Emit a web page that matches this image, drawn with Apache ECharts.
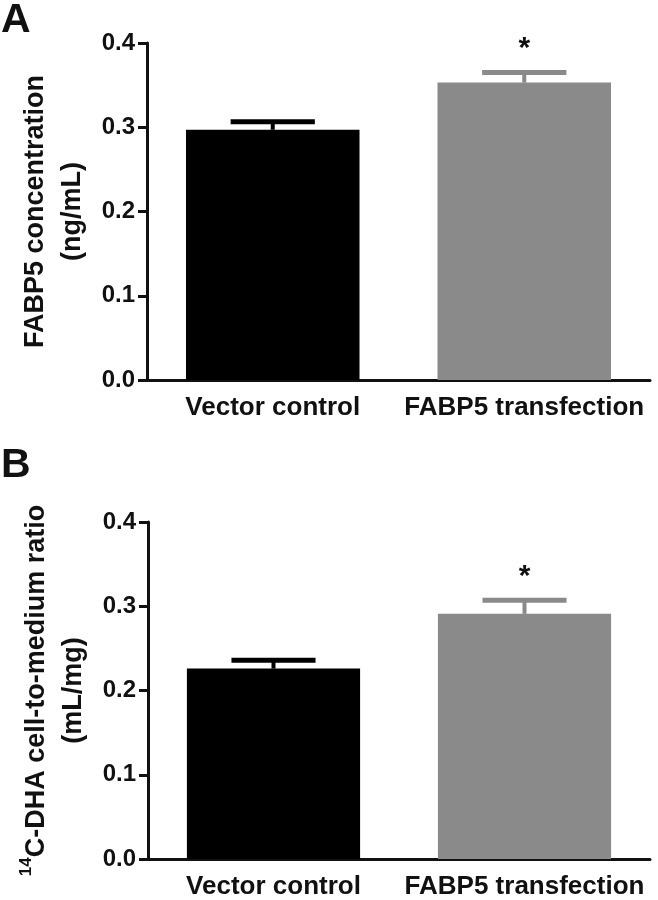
<!DOCTYPE html>
<html>
<head>
<meta charset="utf-8">
<script src="https://cdn.jsdelivr.net/npm/echarts@6/dist/echarts.min.js"></script>
<style>
  html, body { margin: 0; padding: 0; background: #fff; }
  #chart { width: 658px; height: 900px; }
</style>
</head>
<body>
<div id="chart"></div>
<script>
// datos
const categories = ['Vector control', 'FABP5 transfection'];
const barColors = ['#000000', '#8a8a8a'];
const yTicks = [0.0, 0.1, 0.2, 0.3, 0.4];

// panel A: FABP5 (ng/mL)
const meanA = [0.297, 0.353];
const errA = [0.0095, 0.012];
const sigA = ['', '*'];

// panel B: 14C-DHA célula/medio (mL/mg)
const meanB = [0.226, 0.291];
const errB = [0.010, 0.016];
const sigB = ['', '*'];

const FONT = '"Liberation Sans", Arial, sans-serif';
const INK = '#111';

// barra de error solo hacia arriba + asterisco de significancia
function makeErrorRender(sig) {
  return function (params, api) {
    const i = api.value(0);
    const v = api.value(1);
    const e = api.value(2);
    const base = api.coord([i, v]);
    const top = api.coord([i, v + e]);
    const band = api.size([1, 0])[0];
    const capW = band * 0.335;
    const color = barColors[i];
    const children = [
      { type: 'rect', shape: { x: top[0] - 2, y: top[1], width: 4, height: base[1] - top[1] }, style: { fill: color } },
      { type: 'rect', shape: { x: top[0] - capW / 2, y: top[1] - 2.5, width: capW, height: 5 }, style: { fill: color } }
    ];
    if (sig[i]) {
      children.push({
        type: 'text',
        style: { text: sig[i], x: top[0], y: top[1] - 24, align: 'center', verticalAlign: 'middle', font: 'bold 30px ' + FONT, fill: INK }
      });
    }
    return { type: 'group', children };
  };
}

function xAxisFor(gridIndex) {
  return {
    type: 'category', gridIndex, data: categories,
    axisLine: { lineStyle: { color: INK, width: 3 } },
    axisTick: { show: false },
    axisLabel: { color: INK, fontFamily: FONT, fontWeight: 'bold', fontSize: 26, margin: 15, interval: 0 }
  };
}

function yAxisFor(gridIndex, name) {
  return {
    type: 'value', gridIndex, min: 0, max: 0.4, interval: 0.1,
    name, nameLocation: 'middle', nameRotate: 90, nameGap: 47,
    nameTextStyle: {
      color: INK, fontFamily: FONT, fontWeight: 'bold', fontSize: 27, lineHeight: 37, align: 'center',
      rich: {
        sup: { fontFamily: FONT, fontWeight: 'bold', fontSize: 17, color: INK, verticalAlign: 'top', lineHeight: 37, padding: [0, 0, 12, 0] },
        t: { fontFamily: FONT, fontWeight: 'bold', fontSize: 27, color: INK, lineHeight: 37 }
      }
    },
    splitLine: { show: false },
    axisLine: { show: true, lineStyle: { color: INK, width: 3 } },
    axisTick: { show: true, length: 9, lineStyle: { color: INK, width: 3 } },
    axisLabel: { color: INK, fontFamily: FONT, fontWeight: 'bold', fontSize: 24, margin: 12, formatter: (v) => v.toFixed(1) }
  };
}

function barSeries(idx, means) {
  return {
    type: 'bar', xAxisIndex: idx, yAxisIndex: idx, barCategoryGap: '31%',
    data: means.map((m, i) => ({ value: m, itemStyle: { color: barColors[i] } })),
    silent: true, animation: false
  };
}

function errSeries(idx, means, errs, sig) {
  return {
    type: 'custom', xAxisIndex: idx, yAxisIndex: idx, z: 5,
    renderItem: makeErrorRender(sig),
    data: means.map((m, i) => [i, m, errs[i]]),
    silent: true, animation: false
  };
}

const chart = echarts.init(document.getElementById('chart'), null, { renderer: 'canvas' });
chart.setOption({
  backgroundColor: '#fff',
  animation: false,
  grid: [
    { left: 147, right: 8, top: 43, bottom: 520 },
    { left: 148, right: 8, top: 522, bottom: 40 }
  ],
  xAxis: [xAxisFor(0), xAxisFor(1)],
  yAxis: [
    yAxisFor(0, 'FABP5 concentration\n(ng/mL)'),
    yAxisFor(1, '{sup|14}{t|C-DHA cell-to-medium ratio}\n{t|(mL/mg)}')
  ],
  graphic: [
    { type: 'text', left: 1, top: 0, style: { text: 'A', font: 'bold 41px ' + FONT, fill: INK } },
    { type: 'text', left: 1, top: 445, style: { text: 'B', font: 'bold 41px ' + FONT, fill: INK } }
  ],
  series: [
    barSeries(0, meanA), errSeries(0, meanA, errA, sigA),
    barSeries(1, meanB), errSeries(1, meanB, errB, sigB)
  ]
});
</script>
</body>
</html>
